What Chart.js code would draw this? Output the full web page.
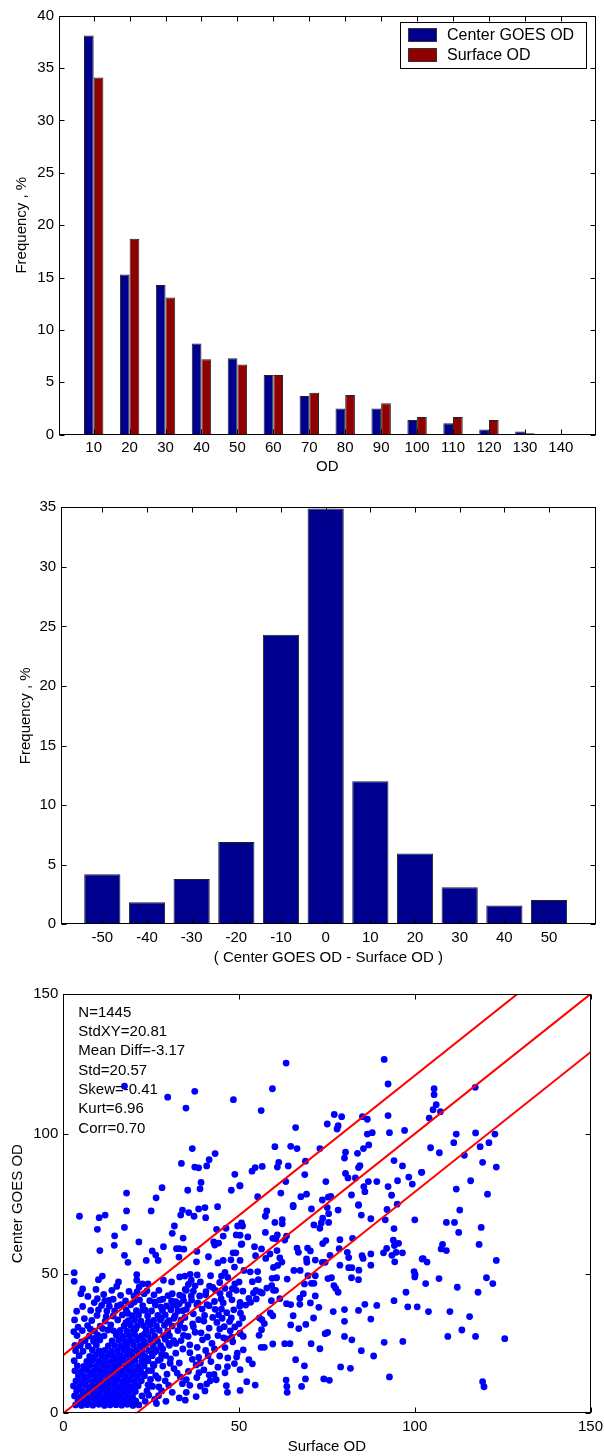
<!DOCTYPE html>
<html><head><meta charset="utf-8">
<script src="https://cdn.jsdelivr.net/npm/chart.js"></script>
<style>
html,body{margin:0;padding:0;background:#fff;}
body{width:604px;height:1456px;position:relative;overflow:hidden;}
canvas{position:absolute;left:0;}
</style></head><body>
<canvas id="c1" width="604" height="480" style="top:0px"></canvas>
<canvas id="c2" width="604" height="490" style="top:480px"></canvas>
<canvas id="c3" width="604" height="486" style="top:970px"></canvas>
<script>
// ---------- data ----------
const odBins = [10,20,30,40,50,60,70,80,90,100,110,120,130,140];
const centerFreq = [38.1,15.3,14.3,8.7,7.3,5.7,3.7,2.5,2.5,1.4,1.1,0.5,0.3,0.03];
const surfaceFreq = [34.1,18.7,13.1,7.2,6.7,5.7,4.0,3.8,3.0,1.7,1.7,1.4,0.15,0.03];
const seriesNames = ['Center GOES OD','Surface OD'];

const diffBins = [-50,-40,-30,-20,-10,0,10,20,30,40,50];
const diffFreq = [4.2,1.85,3.8,6.9,24.3,34.9,12.0,5.95,3.1,1.57,2.04];

const statsLines = ['N=1445','StdXY=20.81','Mean Diff=-3.17','Std=20.57','Skew=-0.41','Kurt=6.96','Corr=0.70'];
const stdXY = 20.81;
const lineOffsets = [stdXY, 0, -stdXY];
const scatterTicks = [0,50,100,150];

const scatterPoints = [
[17.4,117.0],[29.7,113.1],[37.4,115.2],[34.9,109.2],[48.4,112.2],[36.7,94.7],[43.2,92.9],[41.5,90.7],[33.6,89.4],[37.4,88.1],[38.5,87.8],[40.8,88.5],[48.8,85.5],[50.2,81.4],[18.0,78.8],[28.1,80.7],[26.4,77.1],[35.4,79.8],[38.9,80.3],[39.2,82.6],[47.8,79.8],
[63.4,125.3],[91.3,126.6],[92.4,117.8],[59.5,116.1],[56.3,108.3],[77.1,106.9],[79.2,106.1],[85.1,106.1],[86.5,105.2],[92.4,106.5],[75.1,103.5],[78.2,102.9],[77.9,101.7],[66.1,102.2],[86.5,99.9],[87.9,100.4],[92.8,100.4],[97.1,101.2],[86.9,96.0],[85.4,94.7],[60.2,95.4],[64.7,95.5],[66.5,94.7],[73.0,94.7],[80.3,93.4],[80.0,91.3],[83.7,93.0],[68.9,90.2],[94.1,90.4],[96.5,88.5],[61.3,89.8],[60.9,88.1],[64.0,88.5],[53.7,86.6],[54.6,87.9],[56.6,88.3],[84.0,87.9],[84.4,88.6],[80.3,85.8],[81.0,84.2],[83.1,84.2],[68.7,85.4],[63.3,82.9],[74.7,82.9],[86.8,82.9],[89.2,82.9],[95.1,83.2],[98.3,84.5],[99.3,82.0],[101.9,86.2],[92.4,81.1],[85.5,81.1],[85.8,79.3],[93.4,78.0],[61.9,78.8],[55.3,77.5],[67.6,77.5],[69.2,78.4],[73.7,76.3],[75.4,77.3],[76.1,77.6],[82.0,78.1],[50.3,81.4],[65.4,74.4],[84.0,74.6],
[105.5,116.1],[105.5,114.0],[106.1,110.4],[105.2,108.6],[107.3,107.9],[104.1,105.6],[117.2,116.6],[111.8,99.9],[117.3,100.3],[122.8,99.9],[111.1,96.8],[121.1,96.8],[118.6,95.4],[104.5,95.0],[107.0,93.2],[114.1,92.3],[119.3,89.8],[123.2,88.1],[102.0,86.2],[115.9,83.2],[111.8,80.2],[120.7,78.4],
[112.8,72.7],[109.0,68.3],[111.3,68.3],[112.5,64.7],[118.9,66.5],[107.9,60.4],[107.5,58.8],[109.0,58.2],[118.3,60.4],[102.4,55.3],[103.5,54.1],[123.2,54.7],[120.4,48.5],[122.2,46.4],[103.1,46.4],[106.9,48.2],[112.1,45.1],[118.0,43.3],[103.9,36.4],[110.0,36.4],[115.6,34.6],[113.4,29.8],[109.4,27.5],[117.3,27.5],[125.6,26.7],[119.3,11.3],[119.7,9.5],
[65.4,73.9],[70.6,73.1],[75.1,73.6],[78.2,72.7],[84.0,74.4],[92.1,72.9],[95.0,74.8],[57.9,72.4],[57.5,70.5],[60.2,68.3],[62.3,69.3],[62.3,67.8],[71.3,67.4],[73.0,66.2],[73.4,68.1],[73.8,69.8],[75.5,71.4],[75.5,68.3],[84.8,70.9],[87.5,69.6],[91.6,69.2],[100.0,69.2],[94.1,66.1],[57.5,64.7],[59.6,62.6],[60.9,63.8],[60.5,62.4],[63.0,62.0],[63.5,63.4],[54.4,59.6],[56.4,58.8],[52.5,63.1],[50.8,60.6],[51.0,67.0],[50.3,63.7],[58.8,57.0],[60.8,58.2],[61.6,55.6],[54.7,56.4],[57.6,55.4],[59.8,52.2],[61.0,52.9],[62.2,54.1],[50.3,54.7],[66.5,59.1],[66.9,57.6],[69.5,59.1],[70.3,58.1],[69.2,55.2],[69.3,54.0],[71.7,54.8],[73.8,60.7],[74.7,61.8],[75.9,56.5],[73.7,54.0],[74.5,54.0],[78.7,62.1],[80.8,57.6],[82.3,62.6],[78.5,58.9],[78.7,53.0],[81.2,55.7],[81.2,52.1],[82.1,52.1],[84.1,51.2],[82.0,48.5],[84.0,47.8],[85.0,56.4],[85.3,55.4],[87.5,57.0],[87.5,53.0],[91.1,57.4],[92.0,59.0],[93.9,61.9],[94.2,60.0],[95.4,60.8],[93.5,56.5],[94.3,54.2],[96.5,57.4],[94.7,57.6],[102.1,55.2],[99.8,50.7],[100.0,48.8],[100.1,49.6],[97.5,43.3],[94.1,40.3],[98.0,38.1],[100.7,38.1],
[51.4,51.1],[53.2,50.6],[55.3,50.7],[51.1,43.7],[50.3,39.7],[59.4,48.3],[60.7,48.5],[63.7,48.0],[65.6,51.1],[67.4,51.1],[69.6,49.2],[71.7,49.2],[68.6,46.3],[70.6,46.5],[71.3,46.5],[75.3,48.2],[76.3,48.5],[77.0,45.7],[77.5,44.7],[78.2,43.3],[53.8,47.1],[55.5,47.8],[54.8,44.0],[54.1,43.0],[56.0,43.4],[56.6,43.0],[57.9,44.8],[59.3,45.7],[59.8,44.0],[60.4,44.0],[52.8,41.1],[53.3,39.7],[54.9,40.9],[51.9,38.7],[59.2,40.3],[61.6,41.0],[63.5,39.2],[64.7,38.9],[67.3,41.2],[67.3,39.0],[68.3,42.8],[70.3,39.5],[71.7,42.0],[72.7,37.9],[76.8,36.4],[80.0,37.1],[84.0,36.8],[85.8,39.0],[89.2,38.6],[80.0,32.9],[87.5,33.7],[65.4,34.9],[58.9,35.9],[59.6,34.9],[55.8,34.1],[56.5,33.5],[57.2,32.1],[56.4,29.9],[55.7,27.9],[51.0,34.1],[50.3,28.5],[51.2,27.5],[64.7,31.6],[67.0,30.3],[69.0,31.8],[71.2,34.1],[74.5,28.5],[75.2,28.9],[80.0,27.5],[82.1,26.3],[84.8,22.4],[88.3,20.5],[91.3,25.4],[96.6,25.7],[51.2,22.7],[56.3,23.6],[57.2,23.6],[59.6,24.8],[63.0,24.9],[64.5,24.9],[70.5,24.9],[73.0,23.1],[52.8,19.2],[53.8,17.7],[66.1,19.2],[68.6,17.0],[78.9,16.6],[81.7,16.1],[92.8,13.0],[50.3,15.6],[68.9,12.3],[67.8,9.6],[63.4,11.9],[63.6,9.6],[63.7,7.5],[74.1,12.3],[75.7,11.8],[52.2,11.3],[54.6,10.1],[50.3,8.2],
[4.6,70.5],[10.2,70.0],[11.9,70.9],[9.7,65.8],[18.0,72.4],[25.0,72.4],[17.4,66.5],[14.6,63.5],[14.5,60.1],[10.4,58.2],[21.5,61.3],[33.9,72.7],[33.4,70.9],[35.7,71.8],[38.5,73.1],[40.3,73.6],[43.9,73.9],[37.2,70.5],[40.5,70.0],[31.6,67.0],[31.0,64.4],[34.1,62.7],[43.6,65.8],[46.3,66.2],[49.6,67.0],[50.7,68.1],[45.5,63.4],[49.2,63.8],[44.2,60.9],[42.8,61.3],[43.1,60.2],[50.6,60.4],[48.3,57.4],[28.5,59.6],[32.2,58.9],[33.0,58.9],[34.3,58.7],[25.3,58.1],[26.3,56.6],[27.0,54.7],[23.6,54.7],[17.4,56.5],[18.4,54.0],[32.9,55.9],[38.0,57.9],[37.9,54.2],[41.3,56.0],[44.0,53.8],[45.5,54.7],[47.7,54.9],[49.1,57.4],[48.7,52.3],[3.1,50.3],[3.1,47.2],[5.5,44.5],[5.0,42.8],[10.0,47.8],[11.1,49.1],[15.7,47.0],[15.2,45.4],[20.9,49.6],[20.9,47.6],[22.5,46.3],[24.1,46.3],[21.0,43.5],[23.0,42.8],[28.5,47.6],[30.8,47.0],[33.1,48.8],[34.6,49.1],[36.1,49.7],[38.1,49.5],[35.6,46.1],[34.7,44.3],[37.0,43.7],[40.5,42.4],[43.3,44.0],[46.0,50.4],[48.1,44.6],[50.0,47.0],[9.7,41.0],[11.8,40.2],[14.2,40.8],[3.2,33.4],[28.3,40.8],[31.3,38.7],[33.0,39.2],[38.3,39.5],[40.9,38.9],[44.9,40.9],[48.0,40.6],[50.2,38.3],[45.0,37.3],[45.2,34.0],[47.8,34.1],[50.4,35.8],[50.3,28.7],[47.9,27.2],[46.4,26.6],[44.5,30.2],[49.3,20.1],[46.7,16.7],[42.9,13.9],[41.5,13.7],[40.8,10.5],[46.4,9.9],[46.7,7.5],[34.7,4.7],[27.1,6.3],[33.9,10.6],[35.0,12.0],[24.1,10.2],[25.4,9.6],
[3.5,3.0],[5.2,2.8],[6.8,3.1],[8.4,2.9],[10.1,3.2],[11.7,2.8],[13.3,3.0],[15.0,3.1],[16.6,2.9],[18.2,3.2],[19.8,2.8],[21.5,3.0],
[4.2,4.6],[6.0,4.4],[7.6,4.8],[9.2,4.5],[10.9,4.7],[12.5,4.4],[14.2,4.6],[15.8,4.8],[17.4,4.5],[19.1,4.7],[20.6,4.4],
[3.2,6.2],[4.9,6.0],[6.5,6.4],[8.3,6.1],[9.8,6.3],[11.4,6.0],[13.1,6.2],[14.8,6.4],[16.3,6.1],[18.0,6.3],[19.7,6.0],[22.4,6.2],
[3.8,8.0],[5.6,7.8],[7.3,8.2],[8.9,7.9],[10.6,8.1],[12.2,7.8],[13.8,8.0],[15.5,8.2],[17.1,7.9],[18.8,8.1],[20.5,7.8],[23.8,8.0],
[2.9,9.8],[4.6,9.6],[6.3,10.0],[8.0,9.7],[9.6,9.9],[11.3,9.6],[12.9,9.8],[14.6,10.0],[16.2,9.7],[17.9,9.9],[19.5,9.6],[21.3,9.8],[25.0,9.9],
[3.6,11.6],[5.3,11.4],[7.0,11.8],[8.7,11.5],[10.3,11.7],[12.0,11.4],[13.6,11.6],[15.3,11.8],[17.0,11.5],[18.6,11.7],[20.3,11.4],[22.2,11.6],
[4.3,13.4],[6.0,13.2],[7.7,13.6],[9.4,13.3],[11.0,13.5],[12.7,13.2],[14.4,13.4],[16.1,13.6],[17.7,13.3],[19.4,13.5],[21.1,13.2],[23.1,13.4],[26.3,13.5],
[3.3,15.2],[5.1,15.0],[6.8,15.4],[8.5,15.1],[10.2,15.3],[11.8,15.0],[13.5,15.2],[15.2,15.4],[16.9,15.1],[18.6,15.3],[20.3,15.0],[22.0,15.2],[24.2,15.3],
[4.0,17.0],[5.8,16.8],[7.6,17.2],[9.3,16.9],[11.1,17.1],[12.6,16.8],[14.4,17.0],[16.0,17.2],[17.8,16.9],[19.5,17.1],[21.2,16.8],[23.0,17.0],[25.8,17.1],[28.3,16.9],
[3.1,18.8],[6.7,18.6],[8.4,19.0],[10.1,18.7],[11.9,18.9],[13.6,18.6],[15.3,18.8],[17.0,19.0],[18.7,18.7],[20.4,18.9],[22.3,18.6],[24.1,18.8],[27.0,18.9],
[4.5,20.6],[7.5,20.4],[9.2,20.8],[11.0,20.5],[12.8,20.7],[14.5,20.4],[16.2,20.6],[18.0,20.8],[19.7,20.5],[21.5,20.7],[23.2,20.4],[25.3,20.6],[29.1,20.7],
[3.5,22.4],[5.6,22.2],[8.3,22.6],[10.2,22.3],[11.8,22.5],[13.7,22.2],[15.4,22.4],[17.2,22.6],[19.0,22.3],[20.7,22.5],[22.5,22.2],[24.4,22.4],[26.5,22.5],
[4.8,24.2],[7.1,24.0],[9.4,24.4],[12.8,24.1],[14.6,24.3],[16.4,24.0],[18.2,24.2],[20.0,24.4],[21.8,24.1],[23.5,24.3],[25.6,24.0],[27.7,24.2],[30.2,24.3],
[6.2,26.0],[8.6,25.8],[10.4,26.2],[13.9,25.9],[15.8,26.1],[17.6,25.8],[19.3,26.0],[21.1,26.2],[22.9,25.9],[24.8,26.1],[26.8,25.8],[31.4,26.0],
[3.9,27.8],[7.4,27.6],[9.8,28.0],[11.6,27.7],[15.1,27.9],[16.9,27.6],[18.7,27.8],[20.4,28.0],[22.3,27.7],[24.1,27.9],[26.0,27.6],[28.5,27.8],
[5.4,29.6],[8.9,29.4],[12.7,29.8],[14.3,29.5],[16.2,29.7],[18.1,29.4],[19.9,29.6],[23.6,29.8],[25.4,29.5],[27.3,29.7],[29.7,29.4],[32.6,29.6],
[6.9,31.4],[10.5,31.2],[13.5,31.6],[17.3,31.3],[19.1,31.5],[21.0,31.2],[22.8,31.4],[24.7,31.6],[26.5,31.3],[28.8,31.5],[31.0,31.2],
[8.1,33.2],[11.9,33.0],[15.5,33.4],[18.5,33.1],[20.3,33.3],[22.1,33.0],[25.7,33.2],[27.6,33.4],[30.1,33.1],[33.5,33.3],
[9.6,35.0],[14.2,34.8],[16.8,35.2],[19.6,34.9],[21.4,35.1],[24.0,34.8],[26.9,35.0],[29.0,35.2],[31.8,34.9],
[7.8,36.8],[12.4,36.6],[17.9,37.0],[20.8,36.7],[23.3,36.9],[25.1,36.6],[28.2,36.8],[30.6,37.0],[34.0,36.7],
[10.9,38.6],[15.4,38.4],[19.2,38.8],[22.6,38.5],[26.2,38.7],[29.4,38.4],[32.3,38.6],[35.5,38.8],
[13.0,40.4],[17.7,40.2],[21.7,40.6],[24.6,40.3],[27.4,40.5],[30.8,40.2],[34.2,40.4],
[16.3,42.2],[20.1,42.0],[25.8,42.4],[29.8,42.1],[33.1,42.3],[36.4,42.0],
[26,5],[28,8],[30,10],[27,12.5],[29.5,14],[31.5,16],[33,18],[30.5,19.5],[32,21.5],[34,23],[36,24.5],[33.5,26],[35.5,27.5],[37.5,29],[34.5,30.5],[36.8,32],[38.5,33.5],[40.2,35],[37,35.6],[39.5,37.3],[41.5,38.5],[43,40],[36.5,40.5],[38.8,42],[40.6,43.5],[42.5,45],[35,44],[44.5,46.8],[46.8,48.6],[39,47],[41.9,49.2],[31,42.8],[27.8,38],[32.6,36.6],[30,25],[28,21],[25.6,17.5],[33.3,13],[35.6,15],[37.8,17.3],[31,7.5],[29.2,4.3],[38.5,20],[40.5,22.5],[42.3,25],[39.6,26.3],[44,27.8],[41.5,30.5],[43.7,32.5],[45.8,31],[46.5,36],[48.5,37],[44.2,35.2],[47.2,42.5],[49.2,44],[45.5,39.5],[36,10],[38,12.8],[40,15.5],[42,18.5],[44.5,20.5],[46,23.5],[48.2,25.6],[43.5,12],[46,14.5],[48.7,17.8],[40.3,8],[37.8,6],[49.5,21.5],[47.5,29.5],[50,32],
[4.2,30.8],[6.0,33.9],[3.8,36.5],[5.5,38.2],[8.8,39.6],[7.0,41.8],[11.5,42.5],[9.3,44.3],[13.8,44.0],[12.2,34.6],[10.0,37.0],[14.6,36.6],[16.4,38.9],[18.3,35.8],[13.1,38.3],[22.6,36.9],[20.2,39.8],[23.8,43.8],[18.7,43.6],[21.6,45.2],[27.2,44.0],[26.0,39.8],[24.2,32.7],[27.9,34.1],[29.6,32.5],[31.5,34.0],[33.2,31.5],[32.0,39.9],[35.0,37.2],[34.6,34.3],[30.2,27.8],[32.0,25.0],[34.2,27.9],[28.3,23.0],[29.0,26.5],[26.0,21.9],[27.6,19.3],[30.4,17.9],[32.4,14.4],[29.0,11.6],[27.2,9.4],[24.3,6.5],[26.5,3.5],[23.3,4.3],[24.8,12.1],[22.8,14.0],[25.1,15.3],[23.7,19.7],[21.9,21.0],[9.1,26.9],[5.2,25.5],[3.3,24.3],[3.0,29.2],[11.2,30.3],[15.3,28.6],[7.7,30.1],[17.8,32.4],[20.6,30.2],[23.1,28.3],[21.4,26.9],
[36.7,19.3],[39.0,18.0],[41.2,20.6],[43.0,23.0],[38.1,23.6],[36.0,21.7],[39.2,28.8],[41.0,27.3],[37.0,31.0],[42.5,34.3],[40.0,33.0],[38.0,38.8],[43.2,37.2],[44.6,42.9],[41.6,45.5],[37.5,45.6],[34.0,41.8],[36.4,47.6],[46.0,44.7],[48.8,46.3],[45.0,49.1],[47.3,32.8],[45.6,27.0],[48.8,30.9],[46.8,19.8],[44.0,16.5],[41.8,11.6],[39.0,9.7],[35.0,7.5],[33.0,5.5],[38.6,14.5]
];

// ---------- style ----------
const FONT = '"Liberation Sans", Arial, Helvetica, sans-serif';
Chart.defaults.font.family = FONT;
Chart.defaults.font.size = 15;
Chart.defaults.color = '#000';
Chart.defaults.animation = false;
Chart.defaults.plugins.legend.display = false;
Chart.defaults.plugins.tooltip.enabled = false;

const BLUE = '#00008f', RED = '#8f0000';

// frame + inward ticks (MATLAB box style)
const framePlugin = {
  id: 'frame',
  afterDraw(chart) {
    const {ctx, chartArea: a} = chart;
    const xs = chart.scales.x, ys = chart.scales.y;
    const L = Math.round(a.left) + 0.5, R = Math.round(a.right) - 0.5;
    const T = Math.round(a.top) + 0.5, B = Math.round(a.bottom) - 0.5;
    const tl = 5;
    ctx.save();
    ctx.strokeStyle = '#000';
    ctx.lineWidth = 1;
    ctx.beginPath();
    xs.ticks.forEach(t => {
      const px = Math.round(xs.getPixelForValue(t.value)) + 0.5;
      ctx.moveTo(px, B); ctx.lineTo(px, B - tl);
      ctx.moveTo(px, T); ctx.lineTo(px, T + tl);
    });
    ys.ticks.forEach(t => {
      const py = Math.round(ys.getPixelForValue(t.value)) + 0.5;
      ctx.moveTo(L, py); ctx.lineTo(L + tl, py);
      ctx.moveTo(R, py); ctx.lineTo(R - tl, py);
    });
    ctx.stroke();
    ctx.strokeRect(L, T, R - L, B - T);
    ctx.restore();
  }
};

// legend inside plot (chart 1)
const boxLegend = {
  id: 'boxLegend',
  afterDraw(chart, args, o) {
    if (!o || !o.show) return;
    const {ctx} = chart;
    ctx.save();
    ctx.fillStyle = '#fff';
    ctx.fillRect(o.x, o.y, o.w, o.h);
    ctx.strokeStyle = '#000';
    ctx.lineWidth = 1;
    ctx.strokeRect(o.x + 0.5, o.y + 0.5, o.w, o.h);
    chart.data.datasets.forEach((ds, i) => {
      const sy = o.y + o.sw0 + i * o.step;
      ctx.fillStyle = ds.backgroundColor;
      ctx.fillRect(o.x + o.sx, sy, o.swW, o.swH);
      ctx.strokeStyle = '#333';
      ctx.strokeRect(o.x + o.sx + 0.5, sy + 0.5, o.swW - 1, o.swH - 1);
      ctx.fillStyle = '#000';
      ctx.font = '16px ' + FONT;
      ctx.textBaseline = 'middle';
      ctx.textAlign = 'left';
      ctx.fillText(ds.label, o.x + o.tx, sy + o.swH / 2 + 0.5);
    });
    ctx.restore();
  }
};

// statistics text (chart 3)
const statsText = {
  id: 'statsText',
  afterDatasetsDraw(chart, args, o) {
    if (!o || !o.lines) return;
    const {ctx} = chart;
    ctx.save();
    ctx.fillStyle = '#000';
    ctx.font = '15px ' + FONT;
    ctx.textBaseline = 'alphabetic';
    ctx.textAlign = 'left';
    o.lines.forEach((s, i) => ctx.fillText(s, o.x, o.y + i * o.dy));
    ctx.restore();
  }
};

function fixX(h) {
  return s => { s.height = h; s.paddingLeft = 0; s.paddingRight = 0; };
}
function fixY(w) {
  return s => { s.width = w; s.paddingTop = 0; s.paddingBottom = 0; };
}
const noGrid = {display: false, drawTicks: false};
const noBorder = {display: false};

// ---------- chart 1: OD histogram ----------
new Chart(document.getElementById('c1'), {
  type: 'bar',
  data: {
    datasets: [
      {label: seriesNames[0], data: odBins.map((b, i) => ({x: b, y: centerFreq[i]})), backgroundColor: BLUE, borderColor: '#222', borderWidth: 1, categoryPercentage: 0.54, barPercentage: 1.0},
      {label: seriesNames[1], data: odBins.map((b, i) => ({x: b, y: surfaceFreq[i]})), backgroundColor: RED, borderColor: '#222', borderWidth: 1, categoryPercentage: 0.54, barPercentage: 1.0}
    ]
  },
  options: {
    responsive: false,
    devicePixelRatio: 1,
    layout: {padding: {left: 0, top: 15.7, right: 604 - 595.5, bottom: 0}},
    scales: {
      x: {
        type: 'linear', offset: false,
        min: 0.35, max: 149.65,
        grid: noGrid, border: noBorder,
        afterBuildTicks: s => { s.ticks = odBins.map(v => ({value: v})); },
        ticks: {padding: 4, autoSkip: false, maxRotation: 0, callback: v => String(v)},
        title: {display: true, text: 'OD', padding: {top: 0, bottom: 4}},
        afterFit: fixX(480 - 434.7)
      },
      y: {
        min: 0, max: 40,
        ticks: {stepSize: 5, padding: 5},
        grid: noGrid, border: noBorder,
        title: {display: true, text: 'Frequency , %', padding: {top: 12.6, bottom: 0}},
        afterFit: fixY(59)
      }
    },
    plugins: {
      boxLegend: {show: true, x: 400, y: 22, w: 186, h: 46, sx: 8, sw0: 6, step: 20, swW: 29, swH: 14, tx: 47}
    }
  },
  plugins: [framePlugin, boxLegend]
});

// ---------- chart 2: difference histogram ----------
new Chart(document.getElementById('c2'), {
  type: 'bar',
  data: {
    datasets: [
      {label: 'diff', data: diffBins.map((b, i) => ({x: b, y: diffFreq[i]})), backgroundColor: BLUE, borderColor: '#222', borderWidth: 1, categoryPercentage: 1.0, barPercentage: 0.81}
    ]
  },
  options: {
    responsive: false,
    devicePixelRatio: 1,
    layout: {padding: {left: 0, top: 27.3, right: 604 - 595.5, bottom: 0}},
    scales: {
      x: {
        type: 'linear', offset: false,
        min: -59.2, max: 60.4,
        grid: noGrid, border: noBorder,
        afterBuildTicks: s => { s.ticks = diffBins.map(v => ({value: v})); },
        ticks: {padding: 5, autoSkip: false, maxRotation: 0, callback: v => String(v)},
        title: {display: true, text: '( Center GOES OD - Surface OD )', padding: {top: 0, bottom: 3}},
        afterFit: fixX(490 - 444.3)
      },
      y: {
        min: 0, max: 35,
        ticks: {stepSize: 5, padding: 5},
        grid: noGrid, border: noBorder,
        title: {display: true, text: 'Frequency , %', padding: {top: 16.5, bottom: 0}},
        afterFit: fixY(61.2)
      }
    }
  },
  plugins: [framePlugin]
});

// ---------- chart 3: scatter ----------
const lineSets = lineOffsets.map(off => ({
  type: 'line',
  label: 'line',
  data: [{x: 0, y: off}, {x: 150, y: 150 + off}],
  borderColor: '#ff0000',
  borderWidth: 2,
  pointRadius: 0,
  showLine: true,
  fill: false
}));
new Chart(document.getElementById('c3'), {
  type: 'scatter',
  data: {
    datasets: [
      ...lineSets,
      {label: 'points', data: scatterPoints.map(p => ({x: p[0], y: p[1]})), backgroundColor: '#0000ff', borderWidth: 0, pointRadius: 3.4, pointHoverRadius: 3.4}
    ]
  },
  options: {
    responsive: false,
    devicePixelRatio: 1,
    layout: {padding: {left: 0, top: 24, right: 604 - 590.5, bottom: 0}},
    scales: {
      x: {
        type: 'linear', offset: false,
        min: 0, max: 150,
        grid: noGrid, border: noBorder,
        afterBuildTicks: s => { s.ticks = scatterTicks.map(v => ({value: v})); },
        ticks: {padding: 5, autoSkip: false, maxRotation: 0},
        title: {display: true, text: 'Surface OD', padding: {top: 0, bottom: 0}},
        afterFit: fixX(486 - 443.3)
      },
      y: {
        type: 'linear',
        min: 0, max: 150,
        afterBuildTicks: s => { s.ticks = scatterTicks.map(v => ({value: v})); },
        ticks: {padding: 5},
        grid: noGrid, border: noBorder,
        title: {display: true, text: 'Center GOES OD', padding: {top: 9, bottom: 0}},
        afterFit: fixY(63.3)
      }
    },
    plugins: {
      statsText: {lines: statsLines, x: 78.3, y: 46.7, dy: 19.35}
    }
  },
  plugins: [framePlugin, statsText]
});
</script>
</body></html>
